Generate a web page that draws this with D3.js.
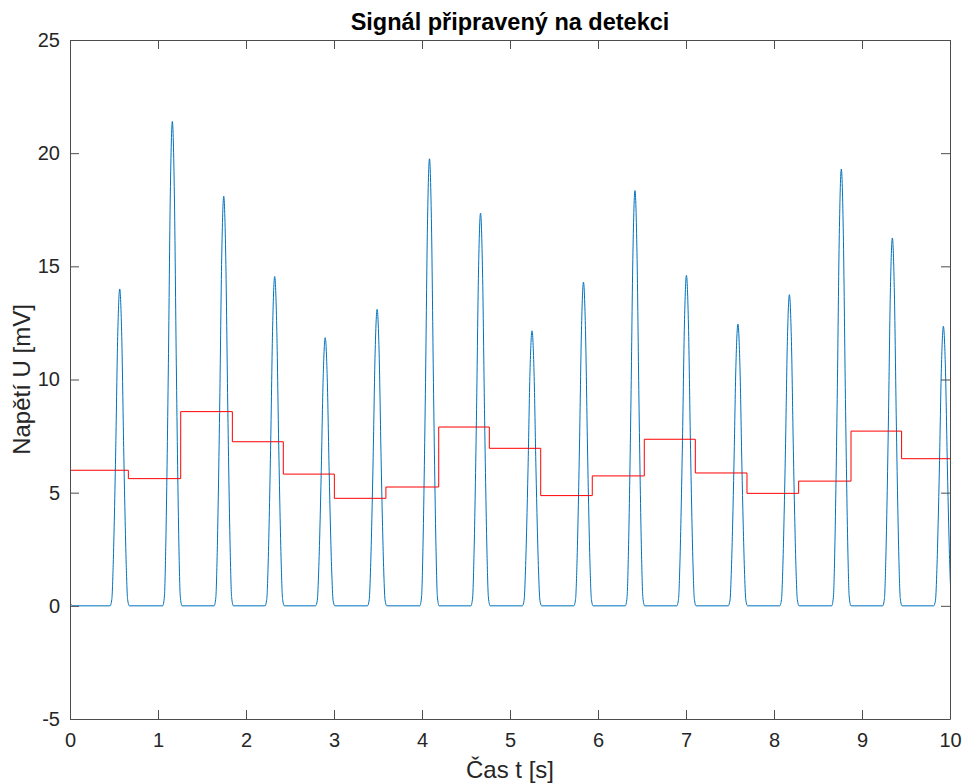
<!DOCTYPE html>
<html>
<head>
    <meta charset="utf-8">
    <title>Signál připravený na detekci</title>
    <script src="https://d3js.org/d3.v7.min.js"></script>
    <style>
        body { margin: 0; background: #fff; }
        text { font-family: "Liberation Sans", Arial, Helvetica, sans-serif; fill: #262626; }
    </style>
</head>
<body>
<script>
// peaks of the detected signal (time [s], value [mV])
var peakTimes  = [0.565, 1.163, 1.747, 2.326, 2.90, 3.49, 4.085, 4.665, 5.25, 5.835, 6.42, 7.005, 7.59, 8.175, 8.765, 9.345, 9.925];
var peakValues = [14.0, 21.4, 18.1, 14.55, 11.85, 13.1, 19.75, 17.35, 12.15, 14.3, 18.35, 14.6, 12.45, 13.75, 19.3, 16.25, 12.35];

// shape of one pulse (offset from peak [s], fraction of peak)
var pulseOffsets = [-0.11, -0.09, -0.074, -0.06, -0.045, -0.023, 0, 0.023, 0.045, 0.06, 0.074, 0.09, 0.11];
var pulseShape   = [0, 0.02, 0.13, 0.29, 0.5, 0.85, 1, 0.85, 0.5, 0.29, 0.13, 0.02, 0];

// threshold (red step line)
var stepEdges  = [0, 0.663, 1.258, 1.845, 2.424, 3.004, 3.59, 4.19, 4.765, 5.349, 5.935, 6.526, 7.106, 7.693, 8.28, 8.875, 9.45];
var stepLevels = [5.99, 5.62, 8.58, 7.25, 5.82, 4.75, 5.25, 7.90, 6.96, 4.87, 5.74, 7.36, 5.87, 4.97, 5.51, 7.72, 6.50];

var xTicks = [0,1,2,3,4,5,6,7,8,9,10];
var yTicks = [-5,0,5,10,15,20,25];

var W = 962, H = 784;
var margin = {top: 40, right: 12, bottom: 65, left: 70};
var w = W - margin.left - margin.right;
var h = H - margin.top - margin.bottom;

var svg = d3.select("body").append("svg")
    .attr("width", W)
    .attr("height", H);

var g = svg.append("g").attr("transform", "translate(" + margin.left + "," + margin.top + ")");

var x = d3.scaleLinear().domain([0, 10]).range([0, w]);
var y = d3.scaleLinear().domain([-5, 25]).range([h, 0]);

g.append("clipPath").attr("id", "clip")
    .append("rect").attr("width", w).attr("height", h);

// signal points: baseline + pulses
var signal = [[0, 0.15], [0.03, 0]];
peakTimes.forEach(function(t, i) {
    pulseOffsets.forEach(function(o, j) {
        signal.push([t + o, peakValues[i] * pulseShape[j]]);
    });
});
signal.push([10.2, 0]);

var line = d3.line()
    .x(function(d) { return x(d[0]); })
    .y(function(d) { return y(d[1]); })
    .curve(d3.curveMonotoneX);

g.append("path")
    .datum(signal)
    .attr("clip-path", "url(#clip)")
    .attr("fill", "none")
    .attr("stroke", "#0072BD")
    .attr("stroke-width", 1)
    .attr("d", line);

// threshold step line
var steps = stepEdges.map(function(e, i) { return [e, stepLevels[i]]; });
steps.push([10, stepLevels[stepLevels.length - 1]]);

g.append("path")
    .datum(steps)
    .attr("fill", "none")
    .attr("stroke", "#FF0000")
    .attr("stroke-width", 1)
    .attr("d", d3.line()
        .x(function(d) { return x(d[0]); })
        .y(function(d) { return y(d[1]); })
        .curve(d3.curveStepAfter));

// axes (MATLAB box style, ticks inward)
var axisColor = "#4d4d4d";
var tickLen = 9;
var plain = function(d) { return String(d); };

var xAxis = g.append("g").attr("transform", "translate(0," + h + ")")
    .call(d3.axisBottom(x).tickValues(xTicks).tickFormat(plain).tickSizeInner(-tickLen).tickSizeOuter(0).tickPadding(14));
var xTop = g.append("g")
    .call(d3.axisTop(x).tickValues(xTicks).tickSizeInner(-tickLen).tickSizeOuter(0).tickFormat(""));
var yAxis = g.append("g")
    .call(d3.axisLeft(y).tickValues(yTicks).tickFormat(plain).tickSizeInner(-tickLen).tickSizeOuter(0).tickPadding(10));
var yRight = g.append("g").attr("transform", "translate(" + w + ",0)")
    .call(d3.axisRight(y).tickValues(yTicks).tickSizeInner(-tickLen).tickSizeOuter(0).tickFormat(""));

[xAxis, xTop, yAxis, yRight].forEach(function(a) {
    a.selectAll("path").attr("stroke", axisColor);
    a.selectAll("line").attr("stroke", axisColor);
    a.selectAll("text").attr("font-size", 20).attr("fill", "#262626");
});
xAxis.selectAll("text").attr("dy", "0.71em");

// labels
svg.append("text")
    .attr("x", margin.left + w / 2)
    .attr("y", 30)
    .attr("text-anchor", "middle")
    .attr("font-size", 23.5)
    .attr("font-weight", "bold")
    .style("fill", "#000")
    .text("Signál připravený na detekci");

svg.append("text")
    .attr("x", margin.left + w / 2)
    .attr("y", 778)
    .attr("text-anchor", "middle")
    .attr("font-size", 24)
    .text("Čas t [s]");

svg.append("text")
    .attr("transform", "translate(30," + (margin.top + h / 2) + ") rotate(-90)")
    .attr("text-anchor", "middle")
    .attr("font-size", 24)
    .text("Napětí U [mV]");
</script>
</body>
</html>
